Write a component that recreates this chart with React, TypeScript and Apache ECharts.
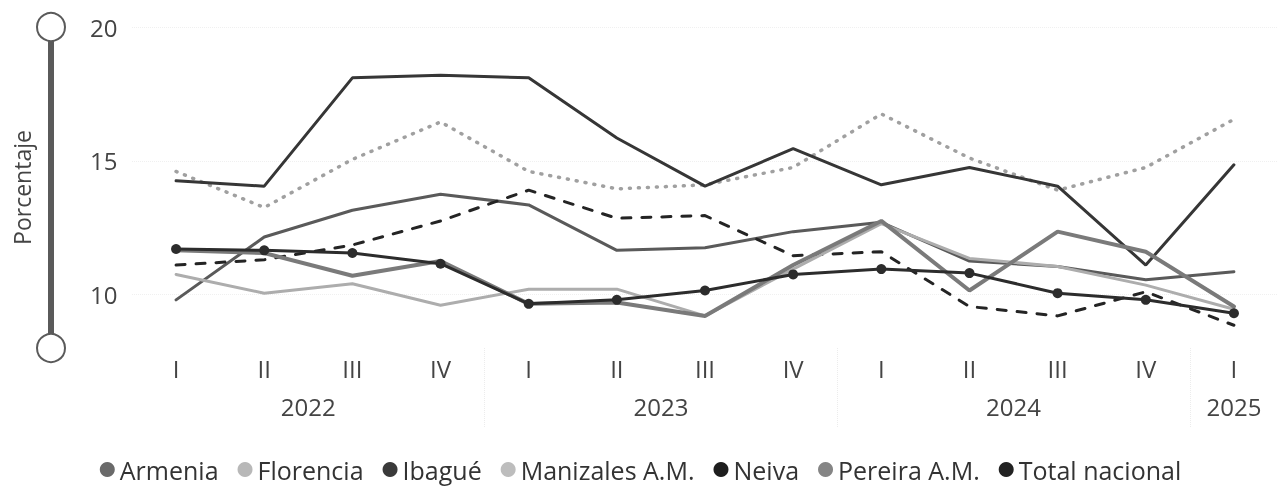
import React, { useEffect, useRef } from "react";
import * as echarts from "echarts";

const quarters = ["I", "II", "III", "IV", "I", "II", "III", "IV", "I", "II", "III", "IV", "I"];
const yearLabels = ["2022", "2023", "2024", "2025"];
const yearLabelSlots = [4, 12, 20, 25];
const yearSeparatorSlots = [8, 16, 24];
const slotCount = 27;

const seriesNames = ["Armenia", "Florencia", "Ibagué", "Manizales A.M.", "Neiva", "Pereira A.M.", "Total nacional"];

const armenia = [9.8, 12.15, 13.15, 13.75, 13.35, 11.65, 11.75, 12.35, 12.7, 11.25, 11.05, 10.55, 10.85];
const florencia = [14.6, 13.25, 15.05, 16.45, 14.6, 13.95, 14.1, 14.75, 16.75, 15.1, 13.9, 14.75, 16.55];
const ibague = [11.1, 11.3, 11.85, 12.75, 13.9, 12.85, 12.95, 11.45, 11.6, 9.55, 9.2, 10.1, 8.85];
const manizales = [10.75, 10.05, 10.4, 9.6, 10.2, 10.2, 9.2, 10.95, 12.65, 11.35, 11.05, 10.35, 9.45];
const neiva = [14.25, 14.05, 18.1, 18.2, 18.1, 15.85, 14.05, 15.45, 14.1, 14.75, 14.05, 11.1, 14.85];
const pereira = [11.65, 11.55, 10.7, 11.25, 9.65, 9.7, 9.2, 11.1, 12.75, 10.15, 12.35, 11.6, 9.55];
const totalNacional = [11.7, 11.65, 11.55, 11.15, 9.65, 9.8, 10.15, 10.75, 10.95, 10.8, 10.05, 9.8, 9.3];

const yMin = 8;
const yMax = 20;
const yLabelValues = [10, 15, 20];

const FONT = "'Open Sans', 'Noto Sans', sans-serif";

export default function App() {
  const ref = useRef<HTMLDivElement>(null);

  useEffect(() => {
    if (!ref.current) return;
    const chart = echarts.init(ref.current, null, { renderer: "svg" });

    const yearSlots: string[] = [];
    for (let i = 0; i < slotCount; i++) {
      const idx = yearLabelSlots.indexOf(i);
      yearSlots.push(idx >= 0 ? yearLabels[idx] : "");
    }

    const styles = [
      { data: armenia, color: "#5a5a5a", width: 3, type: "solid", legend: "#6a6a6a" },
      { data: florencia, color: "#a0a0a0", width: 3.5, type: [1, 8], legend: "#b8b8b8" },
      { data: ibague, color: "#242424", width: 3, type: [9, 11], legend: "#3a3a3a" },
      { data: manizales, color: "#adadad", width: 3, type: "solid", legend: "#bdbdbd" },
      { data: neiva, color: "#363636", width: 3, type: "solid", legend: "#1e1e1e" },
      { data: pereira, color: "#7a7a7a", width: 4, type: "solid", legend: "#858585" },
      { data: totalNacional, color: "#2c2c2c", width: 3, type: "solid", legend: "#222222" },
    ];

    const series = styles.map((s, i) => {
      const isTotal = seriesNames[i] === "Total nacional";
      return {
        name: seriesNames[i],
        type: "line",
        xAxisIndex: 0,
        data: s.data,
        showSymbol: isTotal,
        symbol: "circle",
        symbolSize: isTotal ? 10 : 0,
        itemStyle: { color: s.color },
        lineStyle: { color: s.color, width: s.width, type: s.type, cap: "round" },
        emphasis: { disabled: true },
        z: isTotal ? 5 : 2,
      };
    });

    chart.setOption({
      animation: false,
      grid: { left: 132, width: 1146, top: 27, height: 321, containLabel: false },
      legend: {
        top: 452,
        left: "center",
        icon: "circle",
        itemWidth: 15,
        itemHeight: 15,
        itemGap: 19,
        textStyle: { fontSize: 25, color: "#333", fontFamily: FONT },
        data: seriesNames.map((n, i) => ({ name: n, itemStyle: { color: styles[i].legend } })),
      },
      xAxis: [
        {
          type: "category",
          data: quarters,
          boundaryGap: true,
          axisLine: { show: false },
          axisTick: { show: false },
          axisLabel: { interval: 0, margin: 8, fontSize: 24, color: "#444", fontFamily: FONT },
          splitLine: { show: false },
        },
        {
          type: "category",
          data: yearSlots,
          position: "bottom",
          boundaryGap: false,
          axisLine: { show: false },
          axisTick: {
            show: true,
            interval: (i: number) => yearSeparatorSlots.indexOf(i) >= 0,
            length: 80,
            lineStyle: { color: "#ececec", type: "dotted", width: 1 },
          },
          axisLabel: { interval: 0, margin: 46, fontSize: 24, color: "#444", fontFamily: FONT },
          splitLine: { show: false },
        },
      ],
      yAxis: {
        type: "value",
        min: yMin,
        max: yMax,
        interval: 1,
        position: "left",
        offset: 81,
        name: "Porcentaje",
        nameLocation: "middle",
        nameRotate: 90,
        nameGap: 18,
        nameTextStyle: { fontSize: 23, color: "#444", fontFamily: FONT },
        axisLine: {
          show: true,
          symbol: ["emptyCircle", "emptyCircle"],
          symbolSize: [28, 28],
          lineStyle: { color: "#5a5a5a", width: 6 },
        },
        axisTick: { show: false },
        axisLabel: {
          inside: true,
          margin: 39,
          fontSize: 24,
          color: "#444",
          fontFamily: FONT,
          formatter: (v: number) => (yLabelValues.indexOf(v) >= 0 ? String(v) : ""),
        },
        splitLine: {
          show: true,
          lineStyle: {
            type: "dotted",
            width: 1,
            color: ["rgba(0,0,0,0)", "rgba(0,0,0,0)", "#f0f0f0", "rgba(0,0,0,0)", "rgba(0,0,0,0)"],
          },
        },
      },
      series,
    });

    return () => chart.dispose();
  }, []);

  return <div ref={ref} style={{ position: "fixed", left: 0, top: 0, width: 1281, height: 486 }} />;
}
